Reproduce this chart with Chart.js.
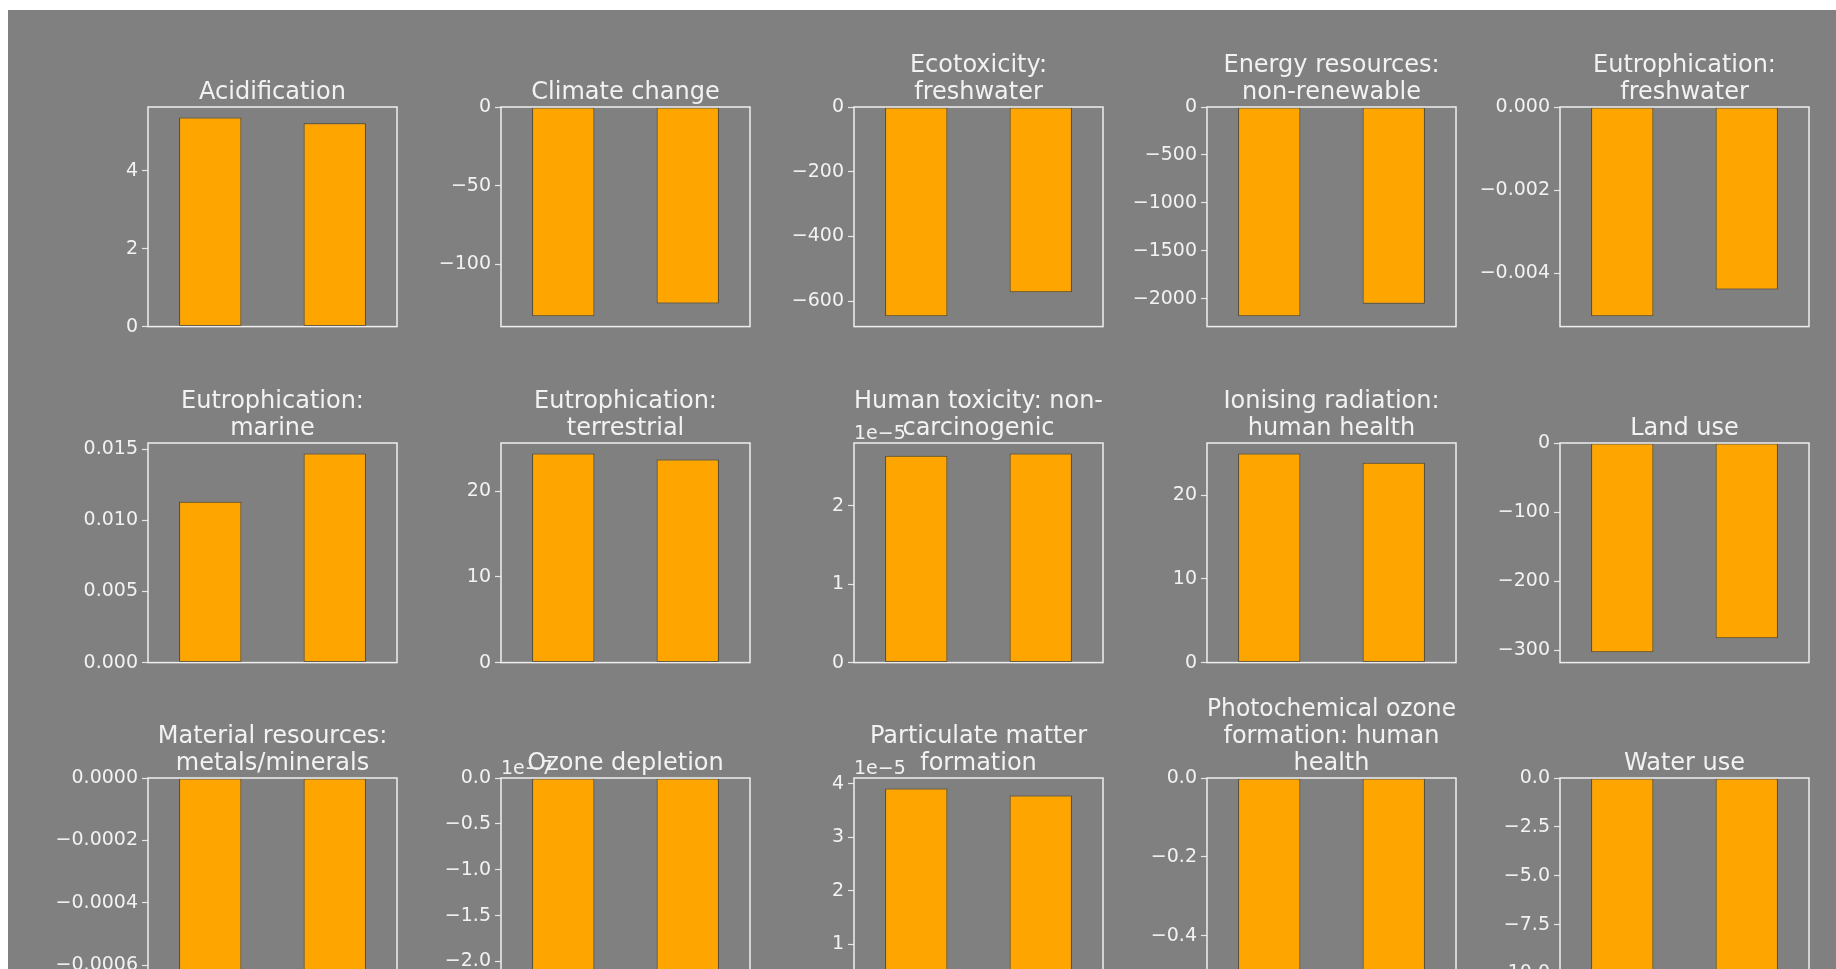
<!DOCTYPE html>
<html>
<head>
<meta charset="utf-8">
<script src="https://cdn.jsdelivr.net/npm/chart.js@4.4.1/dist/chart.umd.min.js"></script>
<style>
    body { margin: 0; width: 1836px; height: 969px; overflow: hidden; position: relative; background: #ffffff; }
    #panel { position: absolute; left: 8px; top: 10px; right: 0; bottom: 0; background: #808080; }
    canvas { position: absolute; }
</style>
</head>
<body>
<div id="panel"></div>
<script>
const titles = [
    ['Acidification'],
    ['Climate change'],
    ['Ecotoxicity:', 'freshwater'],
    ['Energy resources:', 'non-renewable'],
    ['Eutrophication:', 'freshwater'],
    ['Eutrophication:', 'marine'],
    ['Eutrophication:', 'terrestrial'],
    ['Human toxicity: non-', 'carcinogenic'],
    ['Ionising radiation:', 'human health'],
    ['Land use'],
    ['Material resources:', 'metals/minerals'],
    ['Ozone depletion'],
    ['Particulate matter', 'formation'],
    ['Photochemical ozone', 'formation: human', 'health'],
    ['Water use']
];
const categories = ['Scenario 1', 'Scenario 2'];
const firstBar = [5.37, -133, -646, -2180, -0.00503, 0.0113, 24.4, 2.64e-5, 25.0, -303, -0.00067, -2.28e-7, 3.91e-5, -0.53, -10.7];
const secondBar = [5.22, -125, -572, -2050, -0.00439, 0.0147, 23.7, 2.67e-5, 23.9, -283, -0.00064, -2.2e-7, 3.78e-5, -0.52, -10.4];
const yTicks = [
    [0, 2, 4],
    [0, -50, -100],
    [0, -200, -400, -600],
    [0, -500, -1000, -1500, -2000],
    [0, -0.002, -0.004],
    [0, 0.005, 0.010, 0.015],
    [0, 10, 20],
    [0, 1, 2],
    [0, 10, 20],
    [0, -100, -200, -300],
    [0, -0.0002, -0.0004, -0.0006],
    [0, -0.5, -1.0, -1.5, -2.0],
    [0, 1, 2, 3, 4],
    [0, -0.2, -0.4],
    [0, -2.5, -5.0, -7.5, -10.0]
];
const tickDecimals = [0, 0, 0, 0, 3, 3, 0, 0, 0, 0, 4, 1, 0, 1, 1];
const offsetExp = [0, 0, 0, 0, 0, 0, 0, -5, 0, 0, 0, -7, -5, 0, 0];

const FONT = 'DejaVu Sans';
const TEXT = '#f2f2f2';
const AXIS_W = 110;
const BOX_W = 249;
const BOX_H = 221;
const PAD_BOTTOM = 14;
const TITLE_SIZE = 24;
const TITLE_LH = 27 / 24;
const TITLE_GAP = 1;

// matplotlib style box around the axes + the "1e-5" offset text
const framePlugin = {
    id: 'frame',
    afterDraw(chart) {
        const a = chart.chartArea;
        const ctx = chart.ctx;
        ctx.save();
        ctx.strokeStyle = '#eeeeee';
        ctx.lineWidth = 1.5;
        ctx.strokeRect(a.left, a.top, a.right - a.left, a.bottom - a.top);
        const exp = chart.options.plugins.frame.exp;
        if (exp) {
            ctx.fillStyle = TEXT;
            ctx.font = '19px "' + FONT + '"';
            ctx.textAlign = 'left';
            ctx.textBaseline = 'alphabetic';
            ctx.fillText('1e' + (exp < 0 ? '\u2212' : '') + Math.abs(exp), a.left, a.top - 4);
        }
        ctx.restore();
    }
};

function fmt(v, d) {
    return v.toFixed(d).replace('-', '\u2212');
}

function makePanel(i) {
    const r = Math.floor(i / 5);
    const c = i % 5;
    const boxL = 148 + c * 353;
    const boxT = [107, 443, 778][r];
    const titleH = titles[i].length * TITLE_SIZE * TITLE_LH + TITLE_GAP;

    const canvas = document.createElement('canvas');
    canvas.width = AXIS_W + BOX_W + 4;
    canvas.height = Math.round(titleH + BOX_H + PAD_BOTTOM);
    canvas.style.left = (boxL - AXIS_W) + 'px';
    canvas.style.top = Math.round(boxT - titleH) + 'px';
    document.body.appendChild(canvas);

    const vals = [firstBar[i], secondBar[i]];
    const lo = Math.min(0, ...vals);
    const hi = Math.max(0, ...vals);
    const mult = Math.pow(10, offsetExp[i]);

    new Chart(canvas, {
        type: 'bar',
        data: {
            labels: categories,
            datasets: [{
                data: vals,
                backgroundColor: '#ffa500',
                borderColor: 'rgba(60, 45, 10, 0.75)',
                borderWidth: 1,
                borderSkipped: false,
                barPercentage: 0.5,
                categoryPercentage: 1.0
            }]
        },
        options: {
            responsive: false,
            animation: false,
            devicePixelRatio: 1,
            layout: { padding: { left: 0, right: 4, top: 0, bottom: PAD_BOTTOM } },
            plugins: {
                legend: { display: false },
                tooltip: { enabled: false },
                title: {
                    display: true,
                    text: titles[i],
                    fullSize: false,
                    color: TEXT,
                    font: { family: FONT, size: TITLE_SIZE, lineHeight: TITLE_LH, weight: 'normal' },
                    padding: { top: 0, bottom: TITLE_GAP }
                },
                frame: { exp: offsetExp[i] }
            },
            scales: {
                x: { display: false },
                y: {
                    min: lo * 1.05,
                    max: hi * 1.05,
                    afterBuildTicks: (scale) => {
                        scale.ticks = yTicks[i].map(v => ({ value: v * mult }));
                    },
                    afterFit: (scale) => {
                        scale.width = AXIS_W;
                    },
                    border: { display: false },
                    grid: {
                        drawOnChartArea: false,
                        drawTicks: true,
                        tickLength: 6,
                        tickColor: '#e6e6e6',
                        tickWidth: 1.2
                    },
                    ticks: {
                        autoSkip: false,
                        color: TEXT,
                        padding: 4,
                        font: { family: FONT, size: 19 },
                        callback: (value, index) => fmt(yTicks[i][index], tickDecimals[i])
                    }
                }
            }
        },
        plugins: [framePlugin]
    });
}

for (let i = 0; i < titles.length; i++) {
    makePanel(i);
}
</script>
</body>
</html>
